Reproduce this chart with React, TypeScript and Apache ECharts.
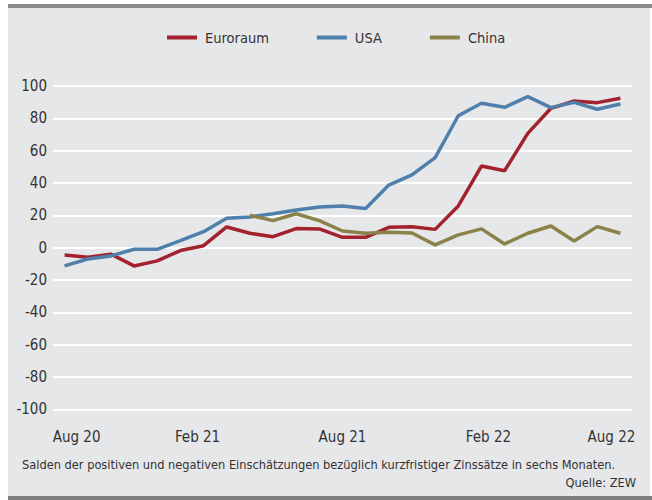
import React, { useEffect, useRef } from "react";
import * as echarts from "echarts";

const months: string[] = [
  "Aug 20", "Sep 20", "Okt 20", "Nov 20", "Dez 20", "Jan 21", "Feb 21", "Mär 21", "Apr 21",
  "Mai 21", "Jun 21", "Jul 21", "Aug 21", "Sep 21", "Okt 21", "Nov 21", "Dez 21", "Jan 22",
  "Feb 22", "Mär 22", "Apr 22", "Mai 22", "Jun 22", "Jul 22", "Aug 22",
];

const euroraum: number[] = [
  -4.5, -6, -4, -11.3, -8.2, -1.8, 1.2, 12.8, 8.9, 6.8, 11.8, 11.6, 6.4, 6.4, 12.6, 12.9,
  11.3, 25.8, 50.5, 47.6, 70.7, 86.2, 90.7, 89.7, 92.4,
];

const usa: number[] = [
  -11.3, -7, -5.1, -1, -1, 4.3, 9.9, 18.2, 19, 21, 23.3, 25.2, 25.8, 24.2, 38.7, 45, 55.7,
  81.6, 89.3, 86.8, 93.4, 86.6, 89.9, 85.6, 88.9,
];

const china: (number | null)[] = [
  null, null, null, null, null, null, null, null, 20, 16.7, 21, 16.7, 10.3, 8.9, 9.5, 9.1,
  1.7, 7.9, 11.6, 2.3, 8.9, 13.4, 4.1, 13, 8.9,
];

const seriesNames: string[] = ["Euroraum", "USA", "China"];
const footnote = "Salden der positiven und negativen Einschätzungen bezüglich kurzfristiger Zinssätze in sechs Monaten.";
const source = "Quelle: ZEW";

const FONT = "'Liberation Sans Narrow', 'DejaVu Sans Condensed', 'Open Sans', sans-serif";
const TEXT = "#333333";

// label style keys per shown tick (nudges to match the reference's placement)
const labelStyleKeys: Record<string, string> = {
  "Aug 20": "r24",
  "Feb 21": "l12",
  "Aug 21": "n",
  "Feb 22": "r14",
  "Aug 22": "l18",
};

export default function App() {
  const ref = useRef<HTMLDivElement>(null);
  useEffect(() => {
    if (!ref.current) return;
    const chart = echarts.init(ref.current, undefined, { renderer: "svg" });
    const colors = ["#a3222d", "#4f80ab", "#8b8249"];
    const base = { color: TEXT, fontSize: 15, fontFamily: FONT };
    chart.setOption({
      animation: false,
      textStyle: { fontFamily: FONT },
      graphic: [
        { type: "rect", z: -10, shape: { x: 8, y: 8, width: 642, height: 488 }, style: { fill: "#e6e7e9" } },
        { type: "rect", z: -9, shape: { x: 8, y: 4, width: 644, height: 4 }, style: { fill: "#8a8a8a" } },
        { type: "rect", z: -9, shape: { x: 8, y: 496, width: 644, height: 4 }, style: { fill: "#7d7d7d" } },
        {
          type: "text", left: 22, top: 458,
          style: { text: footnote, fill: TEXT, font: `12.7px ${FONT}` },
        },
        {
          type: "text", right: 16, top: 476,
          style: { text: source, fill: TEXT, font: `12.7px ${FONT}` },
        },
      ],
      legend: {
        top: 25,
        left: 162,
        itemWidth: 30,
        itemHeight: 4,
        itemGap: 48,
        icon: "rect",
        textStyle: { fontSize: 14.5, color: TEXT, fontFamily: FONT, padding: [0, 0, 0, 3] },
        data: seriesNames,
      },
      grid: { left: 53, right: 20, top: 86, bottom: 90.7, containLabel: false },
      xAxis: {
        type: "category",
        data: months,
        boundaryGap: true,
        axisLine: { show: false },
        axisTick: { show: false },
        axisLabel: {
          interval: 5,
          color: TEXT,
          fontSize: 15,
          margin: 20,
          fontFamily: FONT,
          formatter: (v: string) => `{${labelStyleKeys[v] || "n"}|${v}}`,
          rich: {
            n: { ...base },
            r24: { ...base, padding: [0, 0, 0, 24] },
            r14: { ...base, padding: [0, 0, 0, 14] },
            l12: { ...base, padding: [0, 12, 0, 0] },
            l18: { ...base, padding: [0, 18, 0, 0] },
          },
        },
      },
      yAxis: {
        type: "value",
        min: -100,
        max: 100,
        interval: 20,
        axisLine: { show: false },
        axisTick: { show: false },
        axisLabel: { color: TEXT, fontSize: 15, margin: 6, fontFamily: FONT },
        splitLine: { lineStyle: { color: "#ffffff", width: 2 } },
      },
      series: [
        { name: seriesNames[0], type: "line", data: euroraum, color: colors[0], showSymbol: false, lineStyle: { width: 3.5 } },
        { name: seriesNames[1], type: "line", data: usa, color: colors[1], showSymbol: false, lineStyle: { width: 3.5 } },
        { name: seriesNames[2], type: "line", data: china, color: colors[2], showSymbol: false, lineStyle: { width: 3.5 } },
      ],
    });
    return () => chart.dispose();
  }, []);
  return (
    <div
      ref={ref}
      style={{ position: "fixed", left: 0, top: 0, width: 652, height: 500, background: "#ffffff" }}
    />
  );
}
